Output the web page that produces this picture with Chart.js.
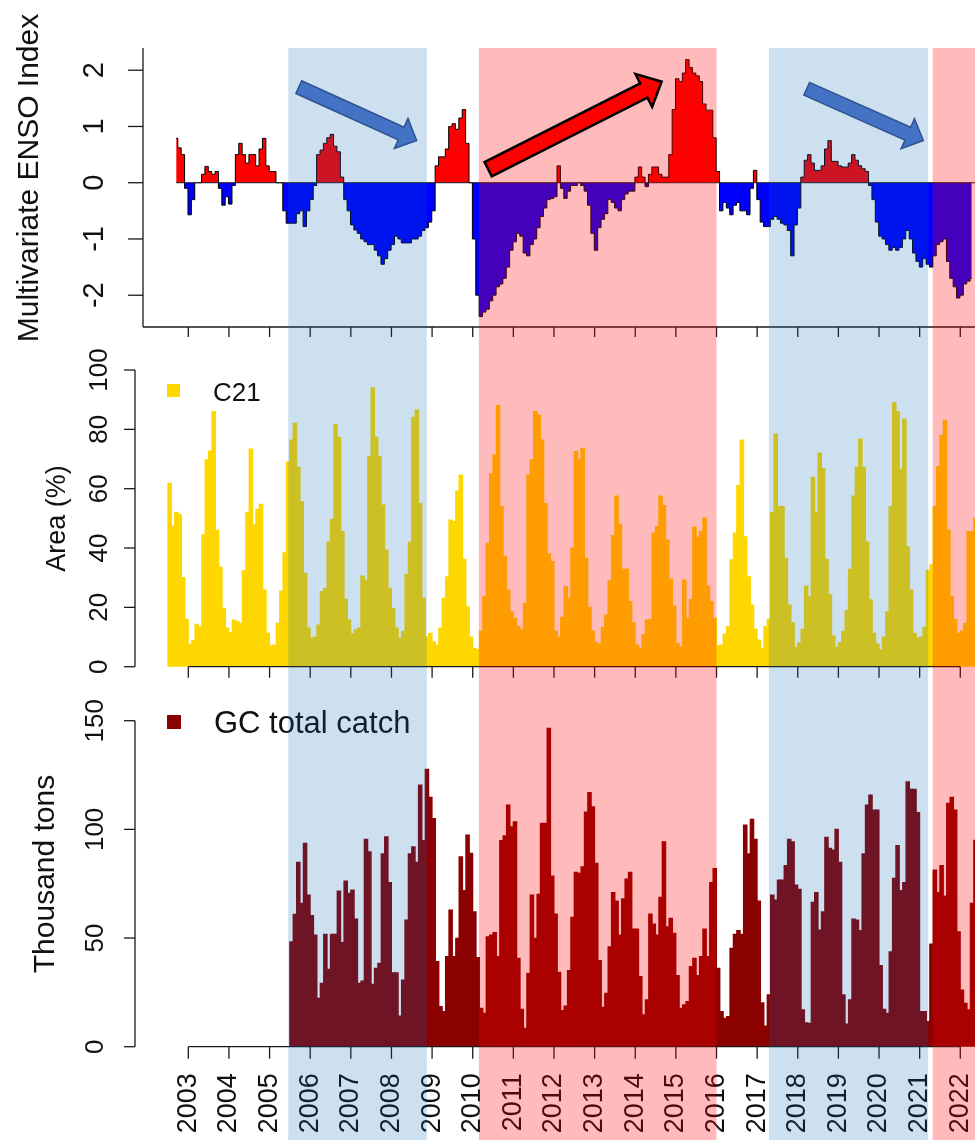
<!DOCTYPE html>
<html lang="en">
<head>
<meta charset="utf-8" />
<title>ENSO index, C21 area and GC total catch</title>
<style>
body{margin:0;background:#fff;}
#wrap{position:relative;width:975px;height:1140px;overflow:hidden;background:#fff;}
#wrap canvas{position:absolute;left:0;}
</style>
</head>
<body>
<div id="wrap">
  <canvas id="ensoChart"  width="975" height="345" style="top:0"></canvas>
  <canvas id="areaChart"  width="975" height="345" style="top:345px"></canvas>
  <canvas id="catchChart" width="975" height="450" style="top:690px"></canvas>
</div>

<script src="https://cdn.jsdelivr.net/npm/chart.js@4.4.1"></script>
<script>
/* ─────────── data (monthly) ─────────── */
const yearTicks  = [2003,2004,2005,2006,2007,2008,2009,2010,2011,2012,2013,2014,2015,2016,2017,2018,2019,2020,2021,2022];
const ensoTicks  = [-2,-1,0,1,2];
const areaTicks  = [0,20,40,60,80,100];
const catchTicks = [0,50,100,150];

const ensoStart = 2002.70;   // first monthly MEI value
const ensoIndex = [
  0.79,0.62,0.5,-0.1,-0.57,-0.3,0,0,0.15,0.29,
  0.2,0.15,0.2,-0.1,-0.4,-0.25,-0.38,-0.05,0.5,0.7,
  0.5,0.35,0.5,0.5,0.3,0.6,0.79,0.3,0.2,0.2,
  0,0,-0.5,-0.72,-0.72,-0.72,-0.55,-0.5,-0.78,-0.5,
  -0.3,-0.05,0.5,0.58,0.7,0.8,0.86,0.65,0.55,0.1,
  -0.3,-0.5,-0.75,-0.84,-0.9,-1.0,-1.05,-1.1,-1.1,-1.2,
  -1.3,-1.45,-1.35,-1.2,-1.1,-0.95,-1.0,-1.07,-1.07,-1.07,
  -1.0,-1.0,-0.95,-0.85,-0.8,-0.7,-0.5,0.3,0.46,0.46,
  0.6,1.0,1.05,0.95,1.15,1.3,0.7,0,-1.0,-2.0,
  -2.38,-2.3,-2.25,-2.1,-2.0,-1.85,-1.8,-1.7,-1.5,-1.2,
  -1.05,-0.9,-0.95,-1.25,-1.3,-1.1,-1.0,-0.8,-0.6,-0.45,
  -0.3,-0.28,-0.25,0.3,-0.1,-0.28,-0.15,-0.05,-0.05,0,
  -0.05,-0.15,-0.4,-0.9,-1.2,-0.8,-0.65,-0.55,-0.3,-0.35,
  -0.45,-0.5,-0.3,-0.2,-0.15,-0.15,0.1,0.28,0.1,-0.07,
  0.15,0.28,0.28,0.15,0.1,0.1,0.5,1.3,1.85,1.8,
  1.95,2.19,2.05,1.95,1.9,1.8,1.4,1.29,1.29,0.8,
  0.2,-0.5,-0.35,-0.45,-0.57,-0.4,-0.35,-0.5,-0.5,-0.57,
  -0.1,0.22,-0.3,-0.7,-0.78,-0.78,-0.65,-0.6,-0.65,-0.72,
  -0.75,-0.85,-1.3,-0.75,-0.45,0.1,0.4,0.5,0.35,0.22,
  0.22,0.3,0.6,0.75,0.38,0.38,0.3,0.28,0.28,0.35,
  0.5,0.4,0.3,0.25,0.2,-0.05,-0.3,-0.7,-0.95,-1.0,
  -1.1,-1.2,-1.15,-1.2,-1.15,-1.0,-0.85,-1.0,-1.25,-1.4,
  -1.5,-1.35,-1.45,-1.5,-1.3,-1.1,-1.05,-1.0,-1.4,-1.7,
  -1.85,-2.05,-2.0,-1.8,-1.75,-1.7
];

const c21Start = 2002.54;    // July 2002
const c21Area = [
  61.8,47.4,52,51.3,30,16,7.5,8.7,14.3,13.5,
  44.4,69.7,72.7,86,46,33.5,19.7,13,11.5,15.7,
  15.2,14.6,32.4,52,73.3,47.8,53,54.7,25.8,11.2,
  7,7.3,14.6,25.5,38.4,69,76.4,82,67.2,55.6,
  31.5,13,9.6,10,14,25.3,26.4,42,49.7,81.5,
  77.3,45.5,22.7,15.7,11,12.4,13,30.5,29.2,70.8,
  94,77.3,70.8,54.5,39.3,26.4,19.7,13,9.6,11.8,
  31,42,84,86.5,55,23,10,11.2,8.4,7.3,
  13,23,30.3,49.4,48.9,59.2,64.6,36.2,20.2,10,
  6.2,5.8,12,23.6,41.6,65,71.3,88,54,37,
  25.8,18.5,16.3,13.5,12.4,21.3,64.6,69.7,86,84.8,
  76.4,55,38,35.4,12,9.9,16.6,27,23,40,
  72.5,69.7,73.6,36.5,20,12,8.1,7.6,13.3,17.4,
  29,44.2,57.5,48,32.8,32.8,21.9,14.8,7.3,6.2,
  10.7,15.7,16,45,47.2,57.5,54.3,42.7,29.4,20.4,
  7.9,6.7,29.2,16.3,22.7,47,43.6,45.5,50,27.2,
  21.9,16.3,7,7.3,11,13.5,36,45,61,76.4,
  43.8,30.3,20.8,12.6,9,6,13.5,16,52,78.4,
  54,54,36.5,20.8,14.8,6.5,8,12.6,27.2,23.6,
  63.8,52,72,66.8,36.2,24.2,10.3,6.5,8,11.8,
  18.9,32.8,57.5,67.2,76.7,67.2,42,22.5,11.2,7.6,
  5.6,10,18.5,54,89,86,66.5,83.4,40.4,25.8,
  11.2,9.6,10,13.3,32.4,34.3,54,67.4,78,83,
  46,23.6,16,11.2,12,14.6,45.5,45.5,50
];

const catchStart = 2005.54;  // July 2005
const gcCatch = [
  48.3,60.9,84.8,66,93.6,69.8,60.3,51.4,22.2,29.1,
  51.7,35.6,51.7,51.7,71.6,47.9,76.2,70.6,72.1,58.7,
  29.1,30.2,95.4,89.6,28.7,36,38.3,88.7,96.6,75.5,
  34,34,14.1,30.7,58.3,88.7,92,84.8,120.4,94.8,
  127.6,114.7,105,39.1,18.4,16.1,41.4,62.9,41.4,49.8,
  87.4,71.8,97.4,89,62.1,41,17.6,15.3,50.6,51.4,
  52.5,41.4,94.8,97,111.2,101.2,103.5,40.6,17.2,8.4,
  33.7,69.8,49.8,70.1,102.8,102.8,146.5,78.5,61,34.2,
  16.6,18.7,35,59.5,80.2,79.8,82.8,108,116.9,110.4,
  84.4,39.6,18.1,24.5,46,70.9,67,51.4,68,77.1,
  80.2,54.1,54.1,32.2,14.6,21.5,61,56.4,51.4,68.7,
  94.3,55.2,59,52.1,32.7,17.6,19.2,20.7,36.8,40.6,
  32.7,41.4,54.1,41.4,75.5,82,36,16.1,13,13.8,
  45.2,51.7,53.4,51.7,102,88.7,104.6,95.4,67,20.2,
  9.5,23.8,69.8,67.5,76.7,76.7,83.3,95.4,94.3,74.4,
  72.4,16.9,11,10.7,66.4,70.9,53.7,62.1,96.3,91.3,
  90.5,100,84.8,23.8,10.4,21.5,58.7,58.3,53.4,88.7,
  111.2,115.8,108.9,108.9,37.3,17.2,15.3,43.7,77.5,92.5,
  71.8,75.5,121.9,118.4,118.4,107.7,16.1,16.1,11.5,47.2,
  81.3,70.9,83.3,69.3,112,114.7,108.9,52.9,26.1,19.9,
  16.9,66,95
];

/* La Niña / El Niño phases shaded across all panels */
const phaseFrom = [2005.46, 2010.15, 2017.29, 2021.32];
const phaseTo   = [2008.87, 2016.00, 2021.21, 2023.00];
const phaseKind = ['nina', 'nino', 'nina', 'nino'];

/* trend arrows in the ENSO panel (year, index) */
const arrowFrom = [[2005.72, 1.70], [2010.38, 0.24], [2018.22, 1.67]];
const arrowTo   = [[2008.62, 0.75], [2014.65, 1.80], [2021.09, 0.75]];
const arrowKind = ['nina', 'nino', 'nina'];

/* ─────────── styling ─────────── */
const FONT = '"Liberation Sans", Arial, Helvetica, sans-serif';
const phaseFill = {nina:'rgba(0,100,180,0.2)', nino:'rgba(255,0,0,0.267)'};
const arrowStyle = {
  nina:{fill:'#4472c4', stroke:'#2f528f', lw:1.5, w:7,  h:16.5, len:17},
  nino:{fill:'#ff0000', stroke:'#000000', lw:2.5, w:8,  h:18.5, len:20}
};
const X_MAX = 2022.362;

Chart.defaults.animation = false;

function vText(ctx, txt, x, y, size, align){
  ctx.save();
  ctx.translate(x, y);
  ctx.rotate(-Math.PI/2);
  ctx.font = size + 'px ' + FONT;
  ctx.textAlign = align || 'center';
  ctx.textBaseline = 'middle';
  ctx.fillText(txt, 0, 0);
  ctx.restore();
}
function seg(ctx, x1, y1, x2, y2){
  ctx.beginPath(); ctx.moveTo(x1, y1); ctx.lineTo(x2, y2); ctx.stroke();
}
function drawArrow(ctx, x, y, i){
  const s = arrowStyle[arrowKind[i]];
  const tx = x.getPixelForValue(arrowFrom[i][0]), ty = y.getPixelForValue(arrowFrom[i][1]);
  const px = x.getPixelForValue(arrowTo[i][0]),   py = y.getPixelForValue(arrowTo[i][1]);
  const d = Math.hypot(px-tx, py-ty), ux = (px-tx)/d, uy = (py-ty)/d, nx = -uy, ny = ux;
  const bx = px - ux*s.len, by = py - uy*s.len;
  ctx.beginPath();
  ctx.moveTo(tx + nx*s.w, ty + ny*s.w);
  ctx.lineTo(bx + nx*s.w, by + ny*s.w);
  ctx.lineTo(bx + nx*s.h, by + ny*s.h);
  ctx.lineTo(px, py);
  ctx.lineTo(bx - nx*s.h, by - ny*s.h);
  ctx.lineTo(bx - nx*s.w, by - ny*s.w);
  ctx.lineTo(tx - nx*s.w, ty - ny*s.w);
  ctx.closePath();
  ctx.fillStyle = s.fill; ctx.fill();
  ctx.lineJoin = 'miter'; ctx.strokeStyle = s.stroke; ctx.lineWidth = s.lw; ctx.stroke();
}

/* ─────────── R-like axes, legend, phase shading ─────────── */
const rStyle = {
  id: 'rStyle',
  afterDraw(chart, args, o){
    const {ctx, chartArea: ca, scales: {x, y}} = chart;
    ctx.save();
    ctx.strokeStyle = '#1a1a1a'; ctx.fillStyle = '#111'; ctx.lineWidth = 1.3;

    if (o.zeroFrom != null){
      const y0 = y.getPixelForValue(0);
      ctx.lineWidth = 1;
      seg(ctx, x.getPixelForValue(o.zeroFrom), y0, ca.right, y0);
      ctx.lineWidth = 1.3;
    }

    /* y axis */
    const yt = o.yTicks;
    const yA = o.box ? ca.top    : y.getPixelForValue(yt[yt.length-1]);
    const yB = o.box ? ca.bottom : y.getPixelForValue(yt[0]);
    seg(ctx, ca.left, yA, ca.left, yB);
    yt.forEach(v => {
      const py = y.getPixelForValue(v);
      seg(ctx, ca.left - o.yTickLen, py, ca.left, py);
      vText(ctx, String(v), o.yLabelX, py, o.yLabelSize);
    });

    /* x axis */
    const xA = o.box ? ca.left  : x.getPixelForValue(yearTicks[0]);
    const xB = o.box ? ca.right : x.getPixelForValue(yearTicks[yearTicks.length-1]);
    seg(ctx, xA, ca.bottom, xB, ca.bottom);
    yearTicks.forEach(yr => {
      const px = x.getPixelForValue(yr);
      seg(ctx, px, ca.bottom, px, ca.bottom + o.xTickLen);
      if (o.xLabels) vText(ctx, String(yr), px, ca.bottom + o.xLabelGap, o.xLabelSize, 'right');
    });

    vText(ctx, o.title, o.titleX, o.titleY, o.titleSize);

    if (o.legend){
      const L = o.legend;
      ctx.fillStyle = L.color;
      ctx.fillRect(ca.left + L.dx, ca.top + L.dy, L.box, L.box);
      ctx.fillStyle = '#111';
      ctx.font = L.size + 'px ' + FONT;
      ctx.textAlign = 'left'; ctx.textBaseline = 'middle';
      ctx.fillText(L.text, ca.left + L.tx, ca.top + L.ty);
    }

    /* phase shading laid over everything (as in the figure) */
    const top = o.bandFromArea ? ca.top : 0;
    phaseFrom.forEach((f, i) => {
      const a = x.getPixelForValue(f), b = x.getPixelForValue(phaseTo[i]);
      ctx.fillStyle = phaseFill[phaseKind[i]];
      ctx.fillRect(a, top, b - a, chart.height - top);
    });

    if (o.arrows) arrowFrom.forEach((_, i) => drawArrow(ctx, x, y, i));
    ctx.restore();
  }
};

const months = (start, arr) => arr.map((v, i) => ({x: start + i/12, y: v}));

/* ─────────── ENSO panel ─────────── */
new Chart(document.getElementById('ensoChart'), {
  type: 'line',
  data: {datasets: [{
    data: months(ensoStart, ensoIndex),
    borderColor: '#000', borderWidth: 1, pointRadius: 0, stepped: 'middle',
    fill: {target: 'origin', above: '#ff0000', below: '#0000ff'}
  }]},
  options: {
    responsive: false, devicePixelRatio: 1,
    layout: {padding: {left: 143, right: 0, top: 48, bottom: 18}},
    scales: {
      x: {type: 'linear', display: false, offset: false, min: 2001.885, max: X_MAX},
      y: {type: 'linear', display: false, min: -2.565, max: 2.395}
    },
    plugins: {
      legend: {display: false}, tooltip: {enabled: false},
      rStyle: {
        box: true, zeroFrom: ensoStart, yTicks: ensoTicks, yTickLen: 15, yLabelX: 95, yLabelSize: 29,
        xTickLen: 10, xLabels: false,
        title: 'Multivariate ENSO Index', titleX: 30, titleY: 178, titleSize: 30,
        bandFromArea: true, arrows: true
      }
    }
  },
  plugins: [rStyle]
});

/* ─────────── C21 area panel ─────────── */
new Chart(document.getElementById('areaChart'), {
  type: 'bar',
  data: {datasets: [{
    data: months(c21Start, c21Area),
    backgroundColor: '#ffd700', borderWidth: 0, inflateAmount: 0.6,
    barPercentage: 1, categoryPercentage: 1
  }]},
  options: {
    responsive: false, devicePixelRatio: 1,
    layout: {padding: {left: 135, right: 0, top: 25, bottom: 23.3}},
    scales: {
      x: {type: 'linear', display: false, offset: false, min: 2001.688, max: X_MAX},
      y: {type: 'linear', display: false, min: 0, max: 100}
    },
    plugins: {
      legend: {display: false}, tooltip: {enabled: false},
      rStyle: {
        box: false, yTicks: areaTicks, yTickLen: 11, yLabelX: 100, yLabelSize: 26,
        xTickLen: 11, xLabels: false,
        title: 'Area (%)', titleX: 58, titleY: 173.5, titleSize: 27,
        legend: {text: 'C21', color: '#ffd700', box: 13, dx: 32, dy: 14, tx: 78, ty: 24, size: 26}
      }
    }
  },
  plugins: [rStyle]
});

/* ─────────── GC total catch panel ─────────── */
new Chart(document.getElementById('catchChart'), {
  type: 'bar',
  data: {datasets: [{
    data: months(catchStart, gcCatch),
    backgroundColor: '#8b0000', borderWidth: 0, inflateAmount: 0.6,
    barPercentage: 1, categoryPercentage: 1
  }]},
  options: {
    responsive: false, devicePixelRatio: 1,
    layout: {padding: {left: 135, right: 0, top: 30.7, bottom: 93.3}},
    scales: {
      x: {type: 'linear', display: false, offset: false, min: 2001.688, max: X_MAX},
      y: {type: 'linear', display: false, min: 0, max: 150}
    },
    plugins: {
      legend: {display: false}, tooltip: {enabled: false},
      rStyle: {
        box: false, yTicks: catchTicks, yTickLen: 11, yLabelX: 96, yLabelSize: 26,
        xTickLen: 12, xLabels: true, xLabelGap: 26.5, xLabelSize: 27,
        title: 'Thousand tons', titleX: 46, titleY: 184, titleSize: 30,
        legend: {text: 'GC total catch', color: '#8b0000', box: 14, dx: 32, dy: -5.7, tx: 79, ty: 3.3, size: 31}
      }
    }
  },
  plugins: [rStyle]
});
</script>
</body>
</html>
